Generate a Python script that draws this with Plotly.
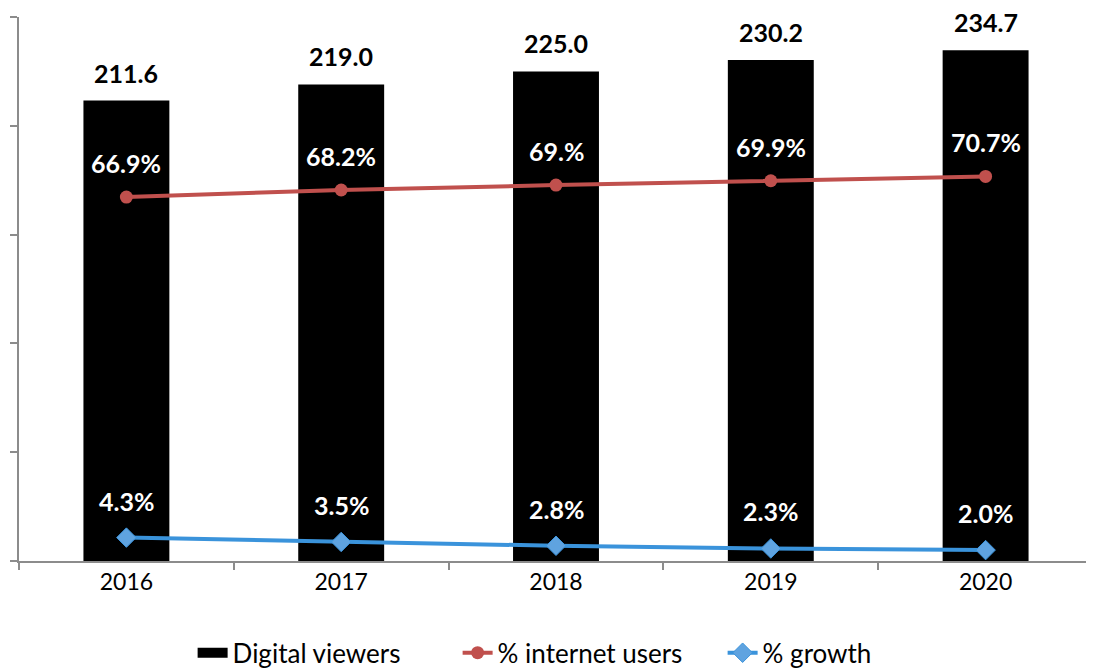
import plotly.graph_objects as go

years = ["2016", "2017", "2018", "2019", "2020"]
digital_viewers = [211.6, 219.0, 225.0, 230.2, 234.7]
viewer_labels = ["211.6", "219.0", "225.0", "230.2", "234.7"]
pct_internet = [66.9, 68.2, 69.1, 69.9, 70.7]
internet_labels = ["66.9%", "68.2%", "69.%", "69.9%", "70.7%"]
pct_growth = [4.3, 3.5, 2.8, 2.3, 2.0]
growth_labels = ["4.3%", "3.5%", "2.8%", "2.3%", "2.0%"]

FONT = "Lato"
AXIS_COLOR = "#8c8c8c"

fig = go.Figure()
fig.add_trace(go.Bar(x=years, y=digital_viewers, name="Digital viewers", showlegend=False,
                     marker=dict(color="black", line=dict(width=0)), width=0.4))
# legend entry for the bars, drawn as a wide black block like the reference
fig.add_trace(go.Scatter(x=[None], y=[None], name="Digital viewers", mode="lines",
                         line=dict(color="black", width=16)))
fig.add_trace(go.Scatter(x=years, y=pct_internet, name="% internet users", yaxis="y2",
                         mode="lines+markers",
                         line=dict(color="#C0504D", width=4),
                         marker=dict(symbol="circle", size=13, color="#C0504D")))
fig.add_trace(go.Scatter(x=years, y=pct_growth, name="% growth", yaxis="y2",
                         mode="lines+markers",
                         line=dict(color="#3A93DB", width=4),
                         marker=dict(symbol="diamond", size=15, color="#5FA3E0",
                                     line=dict(color="#3A93DB", width=1))))

ann = []
for i, (v, t) in enumerate(zip(digital_viewers, viewer_labels)):
    ann.append(dict(x=i, y=v, xref="x", yref="y", text=f"<b>{t}</b>", showarrow=False,
                    yshift=28, font=dict(family=FONT, size=25, color="black")))
for i, (v, t) in enumerate(zip(pct_internet, internet_labels)):
    ann.append(dict(x=i, y=v, xref="x", yref="y2", text=f"<b>{t}</b>", showarrow=False,
                    yshift=34, font=dict(family=FONT, size=25, color="white")))
for i, (v, t) in enumerate(zip(pct_growth, growth_labels)):
    ann.append(dict(x=i, y=v, xref="x", yref="y2", text=f"<b>{t}</b>", showarrow=False,
                    yshift=37, font=dict(family=FONT, size=25, color="white")))

fig.update_layout(
    width=1086, height=660,
    margin=dict(l=11, r=1, t=9, b=107, autoexpand=False),
    paper_bgcolor="white", plot_bgcolor="white",
    font=dict(family=FONT, size=20, color="black"),
    showlegend=True,
    legend=dict(orientation="h", x=0.170, xanchor="left", xref="container",
                y=0.023, yanchor="middle", yref="container",
                font=dict(family=FONT, size=26, color="black"),
                entrywidth=220, traceorder="normal"),
    annotations=ann,
    xaxis=dict(type="category", range=[-0.5, 4.5], showline=True, linecolor=AXIS_COLOR,
               linewidth=1.5, ticks="outside", tickson="boundaries", ticklen=7,
               tickcolor=AXIS_COLOR, tickwidth=1.5, showgrid=False, tickangle=0,
               tickfont=dict(family=FONT, size=23, color="black")),
    yaxis=dict(range=[0, 250], dtick=50, showline=True, linecolor=AXIS_COLOR, linewidth=1.5,
               ticks="outside", ticklen=7, tickcolor=AXIS_COLOR, tickwidth=1.5,
               showticklabels=False, showgrid=False, zeroline=False),
    yaxis2=dict(range=[0, 100], overlaying="y", side="right", showline=True,
                linecolor=AXIS_COLOR, linewidth=1.5, showticklabels=False,
                showgrid=False, zeroline=False, ticks=""),
    bargap=0.6,
)

fig.write_html("out.html")
